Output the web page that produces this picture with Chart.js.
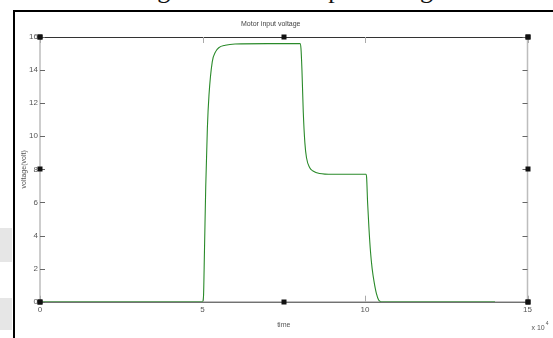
<!DOCTYPE html>
<html>
<head>
<meta charset="utf-8">
<script src="https://cdn.jsdelivr.net/npm/chart.js@4.4.0/dist/chart.umd.min.js"></script>
<style>
  html, body { margin: 0; padding: 0; background: #fff; }
  #wrap { position: relative; width: 553px; height: 338px; overflow: hidden; background: #fff; }
  #caption { position: absolute; left: 0; width: 580px; top: -25px; text-align: center;
             font-family: "Liberation Serif", "DejaVu Serif", serif; font-size: 26px; color: #111; white-space: nowrap; }
  #frameTop { position: absolute; left: 13px; top: 10px; width: 540px; height: 2px; background: #000; }
  #frameLeft { position: absolute; left: 13px; top: 10px; width: 2px; height: 328px; background: #000; }
  .shade { position: absolute; left: 0; width: 12px; background: #e6e6e6; }
  canvas { position: absolute; left: 0; top: 0; }
</style>
</head>
<body>
<div id="wrap">
  <div id="caption">Figure 5: Motor input voltage</div>
  <div class="shade" style="top:228px;height:34px;"></div>
  <div class="shade" style="top:298px;height:32px;"></div>
  <canvas id="c" width="553" height="338"></canvas>
  <div id="frameTop"></div>
  <div id="frameLeft"></div>
</div>
<script>
// time in units of 10^4
const timeValues = [0, 4.9, 5.0, 5.03, 5.06, 5.1, 5.15, 5.2, 5.3, 5.4, 5.5, 5.7, 6.0, 7.0, 8.0, 8.03, 8.06, 8.1, 8.15, 8.2, 8.3, 8.4, 8.6, 9.0, 10.03, 10.05, 10.08, 10.12, 10.17, 10.22, 10.28, 10.35, 10.42, 10.5, 14.0];
const voltageValues = [0, 0, 0, 0.3, 3.0, 7.0, 10.5, 12.5, 14.5, 15.1, 15.35, 15.5, 15.58, 15.6, 15.6, 15.3, 14.0, 11.5, 9.6, 8.7, 8.1, 7.9, 7.75, 7.7, 7.7, 7.5, 6.0, 4.5, 3.0, 2.0, 1.2, 0.5, 0.1, 0, 0];
const xTicks = [0, 5, 10, 15];
const yTicks = [0, 2, 4, 6, 8, 10, 12, 14, 16];
const chartTitle = 'Motor input voltage';
const xTitle = 'time';
const yTitle = 'voltage(volt)';

const points = timeValues.map((t, i) => ({ x: t, y: voltageValues[i] }));
const tickFont = { family: "'Liberation Sans Narrow', 'Liberation Sans', Arial, sans-serif", size: 8 };

const matlabAxes = {
  id: 'matlabAxes',
  beforeDatasetsDraw(chart) {
    const { ctx, chartArea: a, scales: { x, y } } = chart;
    ctx.save();
    ctx.strokeStyle = '#bdbdbd';
    ctx.lineWidth = 1.5;
    ctx.beginPath();
    ctx.moveTo(a.left, a.top); ctx.lineTo(a.left, a.bottom);
    ctx.moveTo(a.right, a.top); ctx.lineTo(a.right, a.bottom);
    ctx.stroke();
    ctx.strokeStyle = '#333';
    ctx.lineWidth = 1;
    ctx.beginPath();
    ctx.moveTo(a.left, a.top + 0.5); ctx.lineTo(a.right, a.top + 0.5);
    ctx.moveTo(a.left, a.bottom + 0.5); ctx.lineTo(a.right, a.bottom + 0.5);
    ctx.stroke();
    ctx.strokeStyle = '#666';
    ctx.lineWidth = 1;
    ctx.beginPath();
    yTicks.forEach(v => {
      const py = Math.round(y.getPixelForValue(v)) + 0.5;
      ctx.moveTo(a.left, py); ctx.lineTo(a.left + 5, py);
      ctx.moveTo(a.right, py); ctx.lineTo(a.right - 5, py);
    });
    ctx.stroke();
    ctx.strokeStyle = '#aaa';
    ctx.beginPath();
    xTicks.forEach(v => {
      const px = Math.round(x.getPixelForValue(v)) + 0.5;
      ctx.moveTo(px, a.top); ctx.lineTo(px, a.top + 6);
      ctx.moveTo(px, a.bottom); ctx.lineTo(px, a.bottom - 6);
    });
    ctx.stroke();
    ctx.restore();
  },
  afterDatasetsDraw(chart) {
    const { ctx, scales: { x, y } } = chart;
    ctx.save();
    ctx.fillStyle = '#111';
    const xs = [x.min, (x.min + x.max) / 2, x.max];
    const ys = [y.min, (y.min + y.max) / 2, y.max];
    const sq = (px, py) => ctx.fillRect(Math.round(px) - 2.5, Math.round(py) - 2.5, 5, 5);
    xs.forEach(v => { sq(x.getPixelForValue(v), y.getPixelForValue(y.min)); sq(x.getPixelForValue(v), y.getPixelForValue(y.max)); });
    ys.forEach(v => { sq(x.getPixelForValue(x.min), y.getPixelForValue(v)); sq(x.getPixelForValue(x.max), y.getPixelForValue(v)); });
    ctx.fillStyle = '#555';
    ctx.font = "7px 'Liberation Sans Narrow', 'Liberation Sans', sans-serif";
    ctx.textBaseline = 'alphabetic';
    ctx.textAlign = 'left';
    const ex = x.getPixelForValue(x.max) + 4;
    ctx.fillText('x 10', ex, 330);
    const w = ctx.measureText('x 10').width;
    ctx.font = "5px 'Liberation Sans', sans-serif";
    ctx.fillText('4', ex + w + 1, 325);
    ctx.restore();
  }
};

new Chart(document.getElementById('c'), {
  type: 'line',
  data: {
    datasets: [{
      data: points,
      borderColor: '#2a8a2a',
      borderWidth: 1.1,
      pointRadius: 0,
      fill: false,
      cubicInterpolationMode: 'monotone'
    }]
  },
  options: {
    responsive: false,
    animation: false,
    devicePixelRatio: 1,
    layout: { padding: { left: 14, right: 25.5, top: 0, bottom: 0 } },
    plugins: {
      legend: { display: false },
      tooltip: { enabled: false },
      title: {
        display: true,
        text: chartTitle,
        color: '#444',
        font: { family: tickFont.family, size: 7, weight: 'normal' },
        padding: { top: 20, bottom: 8.6 }
      }
    },
    scales: {
      x: {
        type: 'linear',
        min: 0, max: 15,
        afterBuildTicks(s) { s.ticks = xTicks.map(v => ({ value: v })); },
        afterFit(s) { s.height = 36.3; },
        grid: { display: false, drawTicks: false },
        border: { display: false },
        ticks: { color: '#555', font: tickFont, padding: 3, maxRotation: 0 },
        title: { display: true, text: xTitle, color: '#555', font: { family: tickFont.family, size: 7 }, padding: { top: 0, bottom: 9 } }
      },
      y: {
        min: 0, max: 16,
        afterBuildTicks(s) { s.ticks = yTicks.map(v => ({ value: v })); },
        afterFit(s) { s.width = 26; },
        grid: { display: false, drawTicks: false },
        border: { display: false },
        ticks: { color: '#555', font: tickFont, padding: 2 },
        title: { display: true, text: yTitle, color: '#555', font: { family: tickFont.family, size: 7 }, padding: { top: 6, bottom: 0 } }
      }
    }
  },
  plugins: [matlabAxes]
});
</script>
</body>
</html>
